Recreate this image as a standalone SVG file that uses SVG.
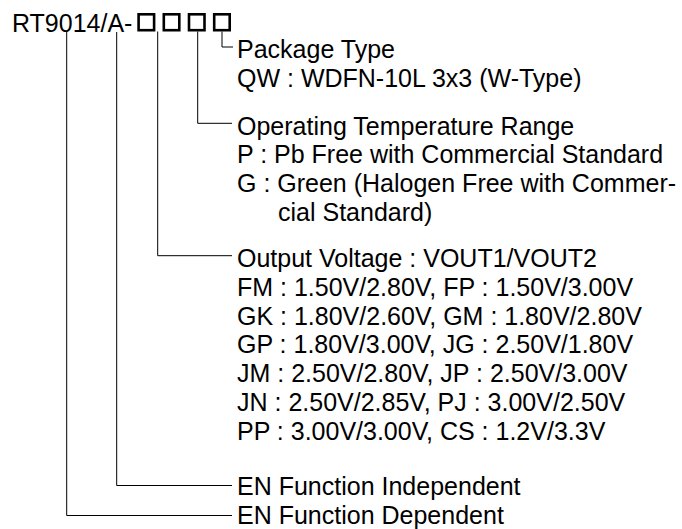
<svg xmlns="http://www.w3.org/2000/svg" width="682" height="529" viewBox="0 0 682 529">
<style>
text{font-family:"Liberation Sans",Arial,sans-serif;font-size:25px;fill:#000}
.box{fill:none;stroke:#000;stroke-width:2.6}
.conn{fill:none;stroke:#000;stroke-width:1}
</style>
<rect width="682" height="529" fill="#fff"/>
<g id="title">
<text x="12" y="31.7">RT9014/A-</text>
<rect class="box" x="138.6" y="14.3" width="15.5" height="15.9"/>
<rect class="box" x="163.8" y="14.3" width="15.5" height="15.9"/>
<rect class="box" x="189" y="14.3" width="15.5" height="15.9"/>
<rect class="box" x="214.2" y="14.3" width="15.5" height="15.9"/>
</g>
<g id="connectors">
<path class="conn" d="M222,31.5 V47 H233"/>
<path class="conn" d="M197.7,31.5 V123.3 H232"/>
<path class="conn" d="M157.7,31.5 V255.7 H232"/>
<path class="conn" d="M116.7,32 V485.5 H232"/>
<path class="conn" d="M66.7,32 V515.5 H232"/>
</g>
<g id="package">
<text x="237" y="57.5">Package Type</text>
<text x="237" y="87">QW : WDFN-10L 3x3 (W-Type)</text>
</g>
<g id="temperature">
<text x="237" y="134.5">Operating Temperature Range</text>
<text x="237" y="163.3">P : Pb Free with Commercial Standard</text>
<text x="237" y="192">G : Green (Halogen Free with Commer-</text>
<text x="278" y="220.8">cial Standard)</text>
</g>
<g id="voltage">
<text x="237" y="267">Output Voltage : VOUT1/VOUT2</text>
<text x="237" y="295.8">FM : 1.50V/2.80V, FP : 1.50V/3.00V</text>
<text x="237" y="324.6">GK : 1.80V/2.60V, GM : 1.80V/2.80V</text>
<text x="237" y="353.4">GP : 1.80V/3.00V, JG : 2.50V/1.80V</text>
<text x="237" y="382.2">JM : 2.50V/2.80V, JP : 2.50V/3.00V</text>
<text x="237" y="411">JN : 2.50V/2.85V, PJ : 3.00V/2.50V</text>
<text x="237" y="439.8">PP : 3.00V/3.00V, CS : 1.2V/3.3V</text>
</g>
<g id="en-independent">
<text x="237" y="494.5">EN Function Independent</text>
</g>
<g id="en-dependent">
<text x="237" y="523.5">EN Function Dependent</text>
</g>
</svg>
